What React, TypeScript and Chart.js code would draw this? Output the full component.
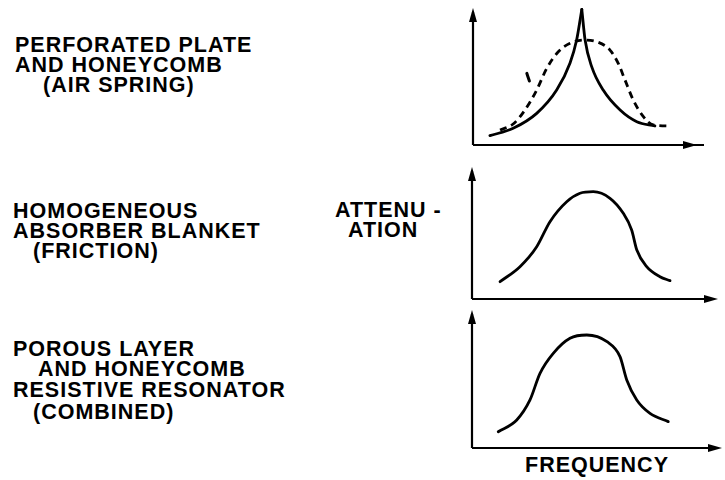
import React, { useEffect, useRef } from "react";
import { Chart, registerables } from "chart.js";

Chart.register(...registerables);

// ---- data (normalized 0..100 on each panel's axes) ----
const p1SolidLeft = [[7.2, 6.8], [17.1, 12.2], [27.1, 23.1], [35.6, 40.1], [41.3, 59.9], [44.1, 76.6], [46.3, 99]];
const p1SolidRight = [[46.3, 99], [47.7, 76.6], [50.5, 57.2], [55.4, 40.1], [62.6, 25.5], [69.7, 17], [77.4, 13.9]];
const p1Dashed = [[11.5, 10.9], [17.1, 15.3], [22.1, 25.5], [27.1, 40.1], [31.4, 56], [36.3, 68.1], [41.3, 74.2], [46.9, 76.6], [52.6, 75.4], [58.3, 69.3], [61.8, 59.6], [64.7, 47.4], [68.2, 32.8], [72.5, 20.7], [76.7, 14.6], [83.8, 13.9]];
const p1Stray = [[22.9, 52.3], [24.0, 46.7]];
const p2Curve = [[11.4, 13.1], [19.5, 24.5], [26.3, 39.6], [31.7, 58.6], [38.5, 73.7], [43.9, 80.1], [49.3, 81.3], [56.1, 76.3], [61.5, 64.9], [64.9, 52.3], [67, 37.1], [71, 24.5], [76.4, 16.9], [80.5, 13.9]];
const p3Curve = [[10.5, 11.8], [17.9, 20.3], [23.2, 34.8], [27.2, 54.1], [32.5, 68.6], [39.2, 79.5], [45.9, 81.9], [54, 77], [59.2, 66.2], [61.9, 49.3], [65.9, 34.8], [71.2, 25.1], [78.5, 19.1]];

const block1 = ["PERFORATED PLATE", "AND HONEYCOMB", "(AIR SPRING)"];
const block2 = ["HOMOGENEOUS", "ABSORBER BLANKET", "(FRICTION)"];
const block3 = ["POROUS LAYER", "AND HONEYCOMB", "RESISTIVE RESONATOR", "(COMBINED)"];
const yTitle = ["ATTENU -", "ATION"];
const xTitle = "FREQUENCY";

// ---- layout ----
const FONT = '"Liberation Sans", Arial, Helvetica, sans-serif';
const panels = [
  { ox: 473, oy: 145, ty: 8, rx: 708, arrowX: 697 },
  { ox: 472, oy: 299, ty: 167, rx: 718, arrowX: 718 },
  { ox: 472, oy: 448, ty: 310, rx: 722, arrowX: 722 },
];
const PAD = { left: 10, top: 6, right: 10, bottom: 10 };

const toXY = (arr: number[][]) => arr.map(([x, y]) => ({ x, y }));

const axesPlugin = {
  id: "arrowAxes",
  afterDraw(chart: any, _args: any, opts: any) {
    const { ctx, chartArea } = chart;
    const { left, right, top, bottom } = chartArea;
    const arrowX = left + (opts.arrowX ?? right - left);
    ctx.save();
    ctx.strokeStyle = "#000";
    ctx.fillStyle = "#000";
    ctx.lineWidth = 2.2;
    ctx.beginPath();
    ctx.moveTo(left, bottom);
    ctx.lineTo(left, top + 4);
    ctx.moveTo(left, bottom);
    ctx.lineTo(right - 4, bottom);
    ctx.stroke();
    // y arrow
    ctx.beginPath();
    ctx.moveTo(left, top);
    ctx.lineTo(left - 4, top + 14);
    ctx.lineTo(left + 4, top + 14);
    ctx.closePath();
    ctx.fill();
    // x arrow
    ctx.beginPath();
    ctx.moveTo(arrowX, bottom);
    ctx.lineTo(arrowX - 14, bottom - 4);
    ctx.lineTo(arrowX - 14, bottom + 4);
    ctx.closePath();
    ctx.fill();
    ctx.restore();
  },
};

function makeDatasets(idx: number) {
  const base = {
    borderColor: "#000",
    borderWidth: 2.8,
    pointRadius: 0,
    fill: false,
    cubicInterpolationMode: "monotone" as const,
    borderCapStyle: "round" as const,
  };
  if (idx === 0) {
    return [
      { ...base, label: "solid-left", data: toXY(p1SolidLeft) },
      { ...base, label: "solid-right", data: toXY(p1SolidRight) },
      { ...base, label: "dashed", data: toXY(p1Dashed), borderDash: [7, 5], borderCapStyle: "butt" as const },
      { ...base, label: "stray", data: toXY(p1Stray), borderWidth: 3 },
    ];
  }
  if (idx === 1) return [{ ...base, label: "friction", data: toXY(p2Curve) }];
  return [{ ...base, label: "combined", data: toXY(p3Curve) }];
}

function Panel({ idx }: { idx: number }) {
  const ref = useRef<HTMLCanvasElement | null>(null);
  const p = panels[idx];
  const w = p.rx - p.ox + PAD.left + PAD.right;
  const h = p.oy - p.ty + PAD.top + PAD.bottom;
  useEffect(() => {
    if (!ref.current) return;
    const chart = new Chart(ref.current, {
      type: "line",
      data: { datasets: makeDatasets(idx) as any },
      options: {
        animation: false,
        responsive: false,
        maintainAspectRatio: false,
        layout: { padding: PAD },
        plugins: {
          legend: { display: false },
          tooltip: { enabled: false },
          arrowAxes: { arrowX: p.arrowX - p.ox },
        } as any,
        scales: {
          x: { type: "linear", min: 0, max: 100, display: false },
          y: { type: "linear", min: 0, max: 100, display: false },
        },
      },
      plugins: [axesPlugin],
    });
    return () => chart.destroy();
  }, [idx]);
  return (
    <canvas
      ref={ref}
      width={w}
      height={h}
      style={{ position: "absolute", left: p.ox - PAD.left, top: p.ty - PAD.top, width: w, height: h }}
    />
  );
}

const textStyle: React.CSSProperties = {
  position: "absolute",
  fontFamily: FONT,
  fontWeight: "bold",
  fontSize: 21.5,
  lineHeight: "20px",
  letterSpacing: "1px",
  color: "#000",
  whiteSpace: "pre",
};

function Label({ text, x, y }: { text: string; x: number; y: number }) {
  return <div style={{ ...textStyle, left: x, top: y - 10 }}>{text}</div>;
}

export default function App() {
  return (
    <div style={{ position: "fixed", left: 0, top: 0, width: 725, height: 480, background: "#fff", overflow: "hidden" }}>
      <Label text={block1[0]} x={15} y={45} />
      <Label text={block1[1]} x={15} y={65} />
      <Label text={block1[2]} x={43} y={85} />
      <Label text={block2[0]} x={13} y={211} />
      <Label text={block2[1]} x={13} y={231} />
      <Label text={block2[2]} x={33} y={251} />
      <Label text={block3[0]} x={13} y={349} />
      <Label text={block3[1]} x={38} y={369} />
      <Label text={block3[2]} x={13} y={390} />
      <Label text={block3[3]} x={33} y={412} />
      <Label text={yTitle[0]} x={335} y={210} />
      <Label text={yTitle[1]} x={348} y={230} />
      <Label text={xTitle} x={525} y={465} />
      <Panel idx={0} />
      <Panel idx={1} />
      <Panel idx={2} />
    </div>
  );
}
